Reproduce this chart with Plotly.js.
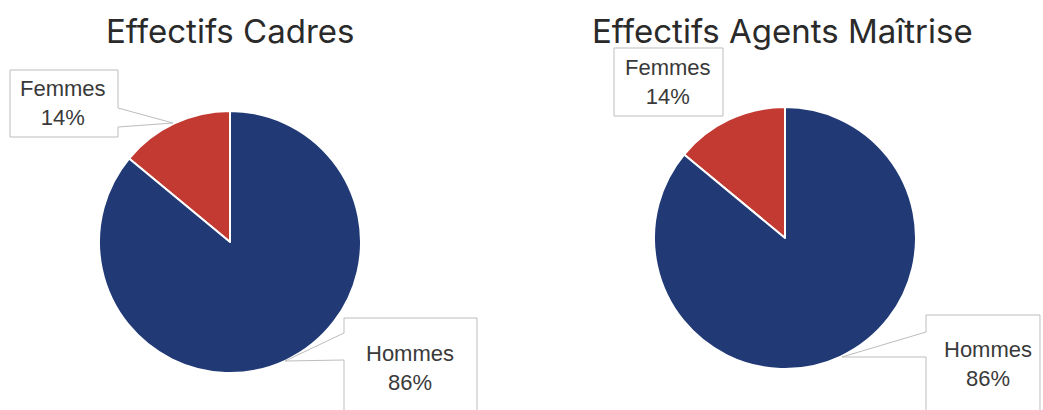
<!DOCTYPE html>
<html>
<head>
<meta charset="utf-8">
<script src="https://cdn.plot.ly/plotly-3.0.1.min.js"></script>
<style>html,body{margin:0;padding:0;background:#fff;}#chart{width:1043px;height:410px;}</style>
</head>
<body>
<div id="chart"></div>
<script>
// ---- data ----
const categories = ["Femmes", "Hommes"];
const cadresValues = [14, 86];
const maitriseValues = [14, 86];
const chartTitles = ["Effectifs Cadres", "Effectifs Agents Maîtrise"];
const sliceColors = ["#c23a32", "#213a76"];

// ---- layout helpers ----
const W = 1043, H = 410;
const px = x => x / W;
const py = y => 1 - y / H;
function pathPx(pts) {
  return "M" + pts.map(p => px(p[0]).toFixed(5) + "," + py(p[1]).toFixed(5)).join(" L") + " Z";
}
function total(vals) { return vals.reduce((a, b) => a + b, 0); }
function pct(vals, i) {
  return Math.round(vals[i] / total(vals) * 100) + "%";
}
// first slice ends at 12 o'clock (drawn to the left of the top)
function rot(vals) { return -360 * vals[0] / total(vals); }

const pieCommon = {
  type: "pie",
  labels: categories,
  sort: false,
  direction: "clockwise",
  textinfo: "none",
  hoverinfo: "label+percent",
  showlegend: false,
  marker: { colors: sliceColors, line: { color: "#ffffff", width: 2 } }
};

const data = [
  Object.assign({}, pieCommon, {
    values: cadresValues,
    rotation: rot(cadresValues),
    domain: { x: [px(99), px(361)], y: [py(373), py(111)] }
  }),
  Object.assign({}, pieCommon, {
    values: maitriseValues,
    rotation: rot(maitriseValues),
    domain: { x: [px(654), px(916)], y: [py(369), py(107)] }
  })
];

const boxLine = { color: "#bdbdbd", width: 1 };
const shapes = [
  // left Femmes callout
  { type: "path", xref: "paper", yref: "paper", line: boxLine, fillcolor: "#ffffff",
    path: pathPx([[10,70],[118,70],[118,108],[173,123],[118,127],[118,137],[10,137]]) },
  // left Hommes callout
  { type: "path", xref: "paper", yref: "paper", line: boxLine, fillcolor: "#ffffff",
    path: pathPx([[344,318],[477,318],[477,412],[344,412],[344,360],[285,361],[344,333]]) },
  // right Femmes callout
  { type: "path", xref: "paper", yref: "paper", line: boxLine, fillcolor: "#ffffff",
    path: pathPx([[614,48],[723,48],[723,116],[614,116]]) },
  // right Hommes callout
  { type: "path", xref: "paper", yref: "paper", line: boxLine, fillcolor: "#ffffff",
    path: pathPx([[926,315],[1040,315],[1040,412],[926,412],[926,357],[842,357],[926,332]]) }
];

const labelFont = { family: "Liberation Sans, Arial, sans-serif", size: 22, color: "#3a3a3a" };
const titleFont = { family: "Inter, Open Sans, sans-serif", size: 33, color: "#2a2a2a" };
function lbl(x, y, i, vals) {
  return { xref: "paper", yref: "paper", x: px(x), y: py(y), xanchor: "center", yanchor: "middle",
    showarrow: false, font: labelFont, align: "center",
    text: categories[i] + "<br>" + pct(vals, i) };
}
const annotations = [
  { xref: "paper", yref: "paper", x: px(230), y: py(31), xanchor: "center", yanchor: "middle",
    showarrow: false, font: titleFont, text: chartTitles[0] },
  { xref: "paper", yref: "paper", x: px(782), y: py(31), xanchor: "center", yanchor: "middle",
    showarrow: false, font: titleFont, text: chartTitles[1] },
  lbl(63, 102.5, 0, cadresValues),
  lbl(410, 367.5, 1, cadresValues),
  lbl(668, 82.5, 0, maitriseValues),
  lbl(988, 364, 1, maitriseValues)
];

const layout = {
  width: W, height: H,
  margin: { l: 0, r: 0, t: 0, b: 0 },
  paper_bgcolor: "#ffffff",
  shapes: shapes,
  annotations: annotations
};

Plotly.newPlot("chart", data, layout, { displayModeBar: false, staticPlot: true });
</script>
</body>
</html>
